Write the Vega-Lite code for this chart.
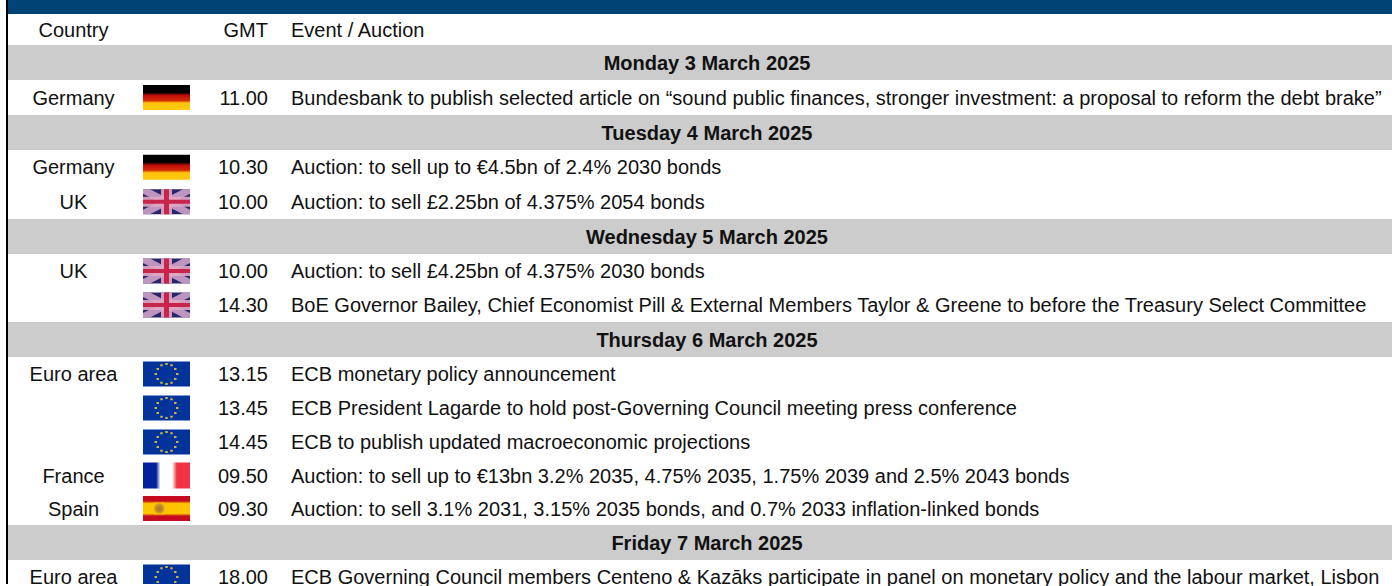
{"$schema":"https://vega.github.io/schema/vega-lite/v6.json","width":1392,"height":586,"padding":0,"background":"#ffffff","autosize":{"type":"fit","contains":"padding"},"config":{"view":{"stroke":null},"text":{"font":"Liberation Sans","fontSize":20,"baseline":"middle","color":"#111111","dy":1}},
"data":{"values":[
{"row":-1,"rowEnd":0,"rowMid":-0.5,"kind":"banner"},
{"row":0,"rowEnd":1,"rowMid":0.5,"kind":"head","country":"Country","gmt":"GMT","event":"Event / Auction"},
{"row":1,"rowEnd":2,"rowMid":1.5,"kind":"day","event":"Monday 3 March 2025"},
{"row":2,"rowEnd":3,"rowMid":2.5,"kind":"item","country":"Germany","flag":"de","gmt":"11.00","event":"Bundesbank to publish selected article on “sound public finances, stronger investment: a proposal to reform the debt brake”"},
{"row":3,"rowEnd":4,"rowMid":3.5,"kind":"day","event":"Tuesday 4 March 2025"},
{"row":4,"rowEnd":5,"rowMid":4.5,"kind":"item","country":"Germany","flag":"de","gmt":"10.30","event":"Auction: to sell up to €4.5bn of 2.4% 2030 bonds"},
{"row":5,"rowEnd":6,"rowMid":5.5,"kind":"item","country":"UK","flag":"uk","gmt":"10.00","event":"Auction: to sell £2.25bn of 4.375% 2054 bonds"},
{"row":6,"rowEnd":7,"rowMid":6.5,"kind":"day","event":"Wednesday 5 March 2025"},
{"row":7,"rowEnd":8,"rowMid":7.5,"kind":"item","country":"UK","flag":"uk","gmt":"10.00","event":"Auction: to sell £4.25bn of 4.375% 2030 bonds"},
{"row":8,"rowEnd":9,"rowMid":8.5,"kind":"item","flag":"uk","gmt":"14.30","event":"BoE Governor Bailey, Chief Economist Pill & External Members Taylor & Greene to before the Treasury Select Committee"},
{"row":9,"rowEnd":10,"rowMid":9.5,"kind":"day","event":"Thursday 6 March 2025"},
{"row":10,"rowEnd":11,"rowMid":10.5,"kind":"item","country":"Euro area","flag":"eu","gmt":"13.15","event":"ECB monetary policy announcement"},
{"row":11,"rowEnd":12,"rowMid":11.5,"kind":"item","flag":"eu","gmt":"13.45","event":"ECB President Lagarde to hold post-Governing Council meeting press conference"},
{"row":12,"rowEnd":13,"rowMid":12.5,"kind":"item","flag":"eu","gmt":"14.45","event":"ECB to publish updated macroeconomic projections"},
{"row":13,"rowEnd":14,"rowMid":13.5,"kind":"item","country":"France","flag":"fr","gmt":"09.50","event":"Auction: to sell up to €13bn 3.2% 2035, 4.75% 2035, 1.75% 2039 and 2.5% 2043 bonds"},
{"row":14,"rowEnd":15,"rowMid":14.5,"kind":"item","country":"Spain","flag":"es","gmt":"09.30","event":"Auction: to sell 3.1% 2031, 3.15% 2035 bonds, and 0.7% 2033 inflation-linked bonds"},
{"row":15,"rowEnd":16,"rowMid":15.5,"kind":"day","event":"Friday 7 March 2025"},
{"row":16,"rowEnd":17,"rowMid":16.5,"kind":"item","country":"Euro area","flag":"eu","gmt":"18.00","event":"ECB Governing Council members Centeno & Kazāks participate in panel on monetary policy and the labour market, Lisbon"}
]},
"layer":[
{"transform":[{"filter":"datum.kind==='banner'"}],"mark":{"type":"rect","color":"#004375","clip":true},"encoding":{"x":{"datum":8,"type":"quantitative","axis":null,"scale":{"domain":[0,1392],"range":[0,1392],"nice":false,"zero":false}},"x2":{"datum":1392},"y":{"field":"row","type":"quantitative","axis":null,"scale":{"domain":[-1,0,1,2,3,4,5,6,7,8,9,10,11,12,13,14,15,16,17],"range":[0,14,45,80,115,150,184.5,219,254,288,322,357,391,425,459,492,525,560,594],"zero":false,"nice":false}},"y2":{"field":"rowEnd"}}},
{"transform":[{"filter":"datum.kind==='day'"}],"mark":{"type":"rect","color":"#cccccc","clip":true},"encoding":{"x":{"datum":8,"type":"quantitative","axis":null,"scale":{"domain":[0,1392],"range":[0,1392],"nice":false,"zero":false}},"x2":{"datum":1392},"y":{"field":"row","type":"quantitative","axis":null,"scale":{"domain":[-1,0,1,2,3,4,5,6,7,8,9,10,11,12,13,14,15,16,17],"range":[0,14,45,80,115,150,184.5,219,254,288,322,357,391,425,459,492,525,560,594],"zero":false,"nice":false}},"y2":{"field":"rowEnd"}}},
{"transform":[{"filter":"datum.kind==='banner'"}],"mark":{"type":"rect","color":"#000000","clip":true},"encoding":{"x":{"datum":6,"type":"quantitative","axis":null,"scale":{"domain":[0,1392],"range":[0,1392],"nice":false,"zero":false}},"x2":{"datum":8},"y":{"datum":-1,"type":"quantitative","axis":null,"scale":{"domain":[-1,0,1,2,3,4,5,6,7,8,9,10,11,12,13,14,15,16,17],"range":[0,14,45,80,115,150,184.5,219,254,288,322,357,391,425,459,492,525,560,594],"zero":false,"nice":false}},"y2":{"datum":17}}},
{"encoding":{"x":{"datum":166.5,"type":"quantitative","axis":null,"scale":{"domain":[0,1392],"range":[0,1392],"nice":false,"zero":false}},"y":{"field":"rowMid","type":"quantitative","axis":null,"scale":{"domain":[-1,0,1,2,3,4,5,6,7,8,9,10,11,12,13,14,15,16,17],"range":[0,14,45,80,115,150,184.5,219,254,288,322,357,391,425,459,492,525,560,594],"zero":false,"nice":false}}},
"layer":[
{"transform":[{"filter":"datum.flag==='de'"}],"mark":{"type":"point","clip":true,"filled":true,"opacity":1,"size":2500,"shape":"M-0.94,-0.5H0.94V0.5H-0.94Z","fill":{"gradient":"linear","x1":0,"y1":0,"x2":0,"y2":1,"stops":[{"offset":0,"color":"#000000"},{"offset":0.3,"color":"#000000"},{"offset":0.42,"color":"#c00d0a"},{"offset":0.62,"color":"#d42a06"},{"offset":0.72,"color":"#ffc40c"},{"offset":1,"color":"#ffc90e"}]}}},
{"transform":[{"filter":"datum.flag==='fr'"}],"mark":{"type":"point","clip":true,"filled":true,"opacity":1,"size":2500,"shape":"M-0.94,-0.52H0.94V0.52H-0.94Z","fill":{"gradient":"linear","x1":0,"y1":0,"x2":1,"y2":0,"stops":[{"offset":0,"color":"#00239a"},{"offset":0.28,"color":"#00239a"},{"offset":0.37,"color":"#ffffff"},{"offset":0.62,"color":"#ffffff"},{"offset":0.72,"color":"#ef3340"},{"offset":1,"color":"#ef3340"}]}}},
{"transform":[{"filter":"datum.flag==='es'"}],"mark":{"type":"point","clip":true,"filled":true,"opacity":1,"size":2500,"shape":"M-0.94,-0.5H0.94V0.5H-0.94Z","fill":{"gradient":"linear","x1":0,"y1":0,"x2":0,"y2":1,"stops":[{"offset":0,"color":"#c60b1e"},{"offset":0.2,"color":"#c60b1e"},{"offset":0.3,"color":"#ffc400"},{"offset":0.7,"color":"#ffc400"},{"offset":0.8,"color":"#c60b1e"},{"offset":1,"color":"#c60b1e"}]}}},
{"transform":[{"filter":"datum.flag==='es'"}],"mark":{"type":"point","clip":true,"filled":true,"opacity":0.9,"size":2500,"shape":"M-0.5,-0.24H-0.08V0.24H-0.5Z","fill":{"gradient":"radial","x1":0.5,"y1":0.5,"r1":0,"x2":0.5,"y2":0.5,"r2":0.5,"stops":[{"offset":0,"color":"#a06a30"},{"offset":0.6,"color":"#b98530"},{"offset":1,"color":"#ffc400"}]}}},
{"transform":[{"filter":"datum.flag==='eu'"}],"mark":{"type":"point","clip":true,"filled":true,"opacity":1,"size":2500,"shape":"M-0.94,-0.5H0.94V0.5H-0.94Z","fill":"#02339b"}},
{"transform":[{"filter":"datum.flag==='eu'"}],"mark":{"type":"point","clip":true,"filled":true,"opacity":0.9,"size":2500,"fill":"#e4c038","shape":"M0.38,-0.04h0.1v0.08h-0.1Z M0.3,0.16h0.1v0.08h-0.1Z M0.15,0.31h0.1v0.08h-0.1Z M-0.05,0.36h0.1v0.08h-0.1Z M-0.25,0.31h0.1v0.08h-0.1Z M-0.4,0.16h0.1v0.08h-0.1Z M-0.48,-0.04h0.1v0.08h-0.1Z M-0.4,-0.24h0.1v0.08h-0.1Z M-0.25,-0.39h0.1v0.08h-0.1Z M-0.05,-0.44h0.1v0.08h-0.1Z M0.15,-0.39h0.1v0.08h-0.1Z M0.3,-0.24h0.1v0.08h-0.1Z"}},
{"transform":[{"filter":"datum.flag==='uk'"}],"mark":{"type":"point","clip":true,"filled":true,"opacity":1,"size":2500,"shape":"M-0.94,-0.5H0.94V0.5H-0.94Z","fill":"#2a2568"}},
{"transform":[{"filter":"datum.flag==='uk'"}],"mark":{"type":"point","clip":true,"filled":true,"opacity":0.85,"size":2500,"fill":"#d8a8d0","shape":"M-0.94,-0.5L-0.66,-0.5L0.94,0.32L0.94,0.5L0.66,0.5L-0.94,-0.32Z M0.94,-0.5L0.66,-0.5L-0.94,0.32L-0.94,0.5L-0.66,0.5L0.94,-0.32Z"}},
{"transform":[{"filter":"datum.flag==='uk'"}],"mark":{"type":"point","clip":true,"filled":true,"opacity":0.9,"size":2500,"fill":"#e0a8c4","shape":"M-0.94,-0.2H-0.22V-0.5H0.22V-0.2H0.94V0.2H0.22V0.5H-0.22V0.2H-0.94Z"}},
{"transform":[{"filter":"datum.flag==='uk'"}],"mark":{"type":"point","clip":true,"filled":true,"opacity":1,"size":2500,"fill":"#c9244c","shape":"M-0.94,-0.08H-0.1V-0.5H0.1V-0.08H0.94V0.08H0.1V0.5H-0.1V0.08H-0.94Z"}}
]},
{"transform":[{"filter":"datum.country"}],"mark":{"type":"text","align":"center"},"encoding":{"x":{"datum":73.5,"type":"quantitative","axis":null,"scale":{"domain":[0,1392],"range":[0,1392],"nice":false,"zero":false}},"y":{"field":"rowMid","type":"quantitative","axis":null,"scale":{"domain":[-1,0,1,2,3,4,5,6,7,8,9,10,11,12,13,14,15,16,17],"range":[0,14,45,80,115,150,184.5,219,254,288,322,357,391,425,459,492,525,560,594],"zero":false,"nice":false}},"text":{"field":"country"}}},
{"transform":[{"filter":"datum.gmt"}],"mark":{"type":"text","align":"right"},"encoding":{"x":{"datum":268,"type":"quantitative","axis":null,"scale":{"domain":[0,1392],"range":[0,1392],"nice":false,"zero":false}},"y":{"field":"rowMid","type":"quantitative","axis":null,"scale":{"domain":[-1,0,1,2,3,4,5,6,7,8,9,10,11,12,13,14,15,16,17],"range":[0,14,45,80,115,150,184.5,219,254,288,322,357,391,425,459,492,525,560,594],"zero":false,"nice":false}},"text":{"field":"gmt"}}},
{"transform":[{"filter":"datum.kind==='item'||datum.kind==='head'"}],"mark":{"type":"text","align":"left"},"encoding":{"x":{"datum":291,"type":"quantitative","axis":null,"scale":{"domain":[0,1392],"range":[0,1392],"nice":false,"zero":false}},"y":{"field":"rowMid","type":"quantitative","axis":null,"scale":{"domain":[-1,0,1,2,3,4,5,6,7,8,9,10,11,12,13,14,15,16,17],"range":[0,14,45,80,115,150,184.5,219,254,288,322,357,391,425,459,492,525,560,594],"zero":false,"nice":false}},"text":{"field":"event"}}},
{"transform":[{"filter":"datum.kind==='day'"}],"mark":{"type":"text","align":"center","fontWeight":"bold"},"encoding":{"x":{"datum":707,"type":"quantitative","axis":null,"scale":{"domain":[0,1392],"range":[0,1392],"nice":false,"zero":false}},"y":{"field":"rowMid","type":"quantitative","axis":null,"scale":{"domain":[-1,0,1,2,3,4,5,6,7,8,9,10,11,12,13,14,15,16,17],"range":[0,14,45,80,115,150,184.5,219,254,288,322,357,391,425,459,492,525,560,594],"zero":false,"nice":false}},"text":{"field":"event"}}}
]}
